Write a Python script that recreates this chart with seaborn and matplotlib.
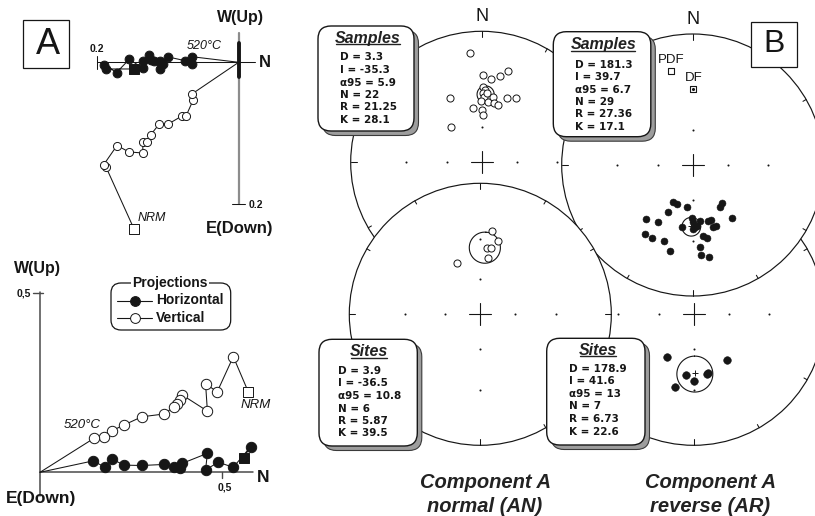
import numpy as np
import pandas as pd
import matplotlib
matplotlib.use("Agg")
import matplotlib.pyplot as plt
import seaborn as sns
from matplotlib.patches import FancyBboxPatch, Rectangle, Circle

# ---------------------------------------------------------------------------
# A) Orthogonal demagnetisation diagrams (first value of each list = NRM)
# top specimen: N component (x) and Up component (y)
top_hor_n = [-0.1475, -0.1862, -0.1897, -0.1721, -0.1541, -0.1344, -0.1352, -0.1263,
             -0.1235, -0.1186, -0.1108, -0.1115, -0.1062, -0.0992, -0.0756, -0.0651, -0.0662]
top_hor_up = [-0.0094, -0.0094, -0.0031, -0.0144, 0.0042, -0.0087, 0.0018, 0.0096,
              0.0032, 0.0018, -0.0101, 0.0018, -0.0024, 0.0075, 0.0023, -0.0017, 0.0079]
top_ver_n = [-0.1475, -0.1869, -0.1904, -0.1714, -0.1545, -0.1352, -0.1348, -0.1285,
             -0.1239, -0.1118, -0.0992, -0.0799, -0.0742, -0.0644, -0.0658]
top_ver_up = [-0.2346, -0.1475, -0.1446, -0.1172, -0.1263, -0.1277, -0.1118, -0.1118,
              -0.1020, -0.0869, -0.0869, -0.0756, -0.0756, -0.0538, -0.0446]

# bottom specimen
bot_hor_n = [0.558, 0.578, 0.530, 0.489, 0.454, 0.459, 0.390, 0.384, 0.367, 0.341,
             0.279, 0.231, 0.197, 0.178, 0.146]
bot_hor_up = [0.041, 0.072, 0.014, 0.028, 0.007, 0.053, 0.025, 0.011, 0.016, 0.022,
              0.019, 0.020, 0.037, 0.014, 0.032]
bot_ver_n = [0.571, 0.530, 0.486, 0.454, 0.459, 0.390, 0.384, 0.377, 0.367, 0.341,
             0.279, 0.230, 0.197, 0.176, 0.148]
bot_ver_up = [0.225, 0.323, 0.225, 0.247, 0.171, 0.216, 0.202, 0.191, 0.183, 0.163,
              0.155, 0.132, 0.116, 0.098, 0.095]

# ---------------------------------------------------------------------------
# B) Stereonets (declination, inclination in degrees)
an_samples_dec = [353.9, 0.7, 6.2, 11.9, 15.8, 1.2, 2.6, 1.3, 2.3, 4.1, 359.1, 6.2,
                  9.6, 11.7, 16.2, 351.2, 0.0, 1.9, 333.6, 21.3, 28.2, 318.5]
an_samples_inc = [-9.9, -22.6, -24.8, -21.9, -18.0, -30.0, -32.2, -34.4, -36.8, -34.3,
                  -39.6, -40.1, -36.6, -40.2, -41.0, -44.7, -46.5, -50.3, -32.8, -34.6,
                  -32.0, -50.7]
an_sites_dec = [7.8, 13.7, 5.5, 9.1, 8.1, 335.7]
an_sites_inc = [-24.6, -29.9, -36.3, -35.5, -43.3, -43.7]

ar_samples_dec = [207.9, 201.5, 187.4, 142.9, 146.8, 207.3, 220.7, 211.4, 181.1, 180.0,
                  172.5, 164.9, 161.9, 143.8, 190.0, 177.9, 176.2, 161.7, 159.3, 214.7,
                  209.4, 200.8, 171.5, 168.7, 194.8, 174.9, 174.9, 169.8, 179.3]
ar_samples_inc = [54.8, 54.5, 54.4, 49.7, 48.3, 45.8, 32.7, 35.7, 45.7, 42.7,
                  43.6, 42.5, 42.3, 36.5, 38.4, 39.5, 40.2, 36.8, 37.1, 24.7,
                  25.0, 26.6, 32.6, 30.6, 21.6, 25.7, 20.8, 18.8, 37.9]
ar_sites_dec = [211.6, 143.7, 187.5, 179.7, 167.8, 166.0, 194.4]
ar_sites_inc = [47.9, 43.2, 39.9, 36.2, 39.8, 40.6, 30.2]

# reference field directions shown on the reverse-samples net
ref_labels = ["PDF", "DF"]
ref_dec = [346.9, 0.0]
ref_inc = [-17.1, -29.6]

# Fisher statistics: AN samples, AR samples, AN sites, AR sites
stat_dec = [3.3, 181.3, 3.9, 178.9]
stat_inc = [-35.3, 39.7, -36.5, 41.6]
stat_a95 = [5.9, 6.7, 10.8, 13]
stat_n = [22, 29, 6, 7]
stat_r = [21.25, 27.36, 5.87, 6.73]
stat_k = [28.1, 17.1, 39.5, 22.6]

# ---------------------------------------------------------------------------
sns.set_theme(style="white")
plt.rcParams["font.family"] = ["Liberation Sans", "DejaVu Sans"]
INK = "#161616"

W, H = 815, 516
fig = plt.figure(figsize=(W / 100, H / 100), dpi=100)
fig.patch.set_facecolor("white")


def px_axes(x0, y0, x1, y1, z):
    ax = fig.add_axes([x0 / W, 1 - y1 / H, (x1 - x0) / W, (y1 - y0) / H])
    ax.set_zorder(z)
    ax.patch.set_alpha(0)
    ax.set_axis_off()
    return ax


def wulff(dec, inc):
    d = np.radians(np.asarray(dec, float))
    i = np.asarray(inc, float)
    r = np.tan(np.radians(90 - np.abs(i)) / 2)
    return r * np.sin(d), r * np.cos(d)


def cone(dec, inc, a95, n=181):
    d, i = np.radians(dec), np.radians(inc)
    m = np.array([np.cos(i) * np.cos(d), np.cos(i) * np.sin(d), np.sin(i)])
    u = np.array([-np.sin(i) * np.cos(d), -np.sin(i) * np.sin(d), np.cos(i)])
    v = np.cross(m, u)
    t = np.linspace(0, 2 * np.pi, n)
    a = np.radians(a95)
    p = np.cos(a) * m[:, None] + np.sin(a) * (np.cos(t) * u[:, None] + np.sin(t) * v[:, None])
    dd = np.degrees(np.arctan2(p[1], p[0]))
    ii = np.degrees(np.arcsin(np.clip(p[2], -1, 1)))
    return wulff(dd, ii)


# ---------------------------------------------------------------- stereonets
R = 131.0
LIM = 1.16


def draw_net(cx, cy, z, north):
    ax = px_axes(cx - LIM * R, cy - LIM * R, cx + LIM * R, cy + LIM * R, z)
    ax.add_patch(Circle((0, 0), 1, facecolor="white", edgecolor=INK, lw=0.85, zorder=1))
    for az in range(0, 360, 30):
        a = np.radians(az)
        r0 = 0.955 if az % 90 == 0 else 0.972
        ax.plot([np.sin(a) * r0, np.sin(a)], [np.cos(a) * r0, np.cos(a)],
                color=INK, lw=0.75, zorder=2)
    gx, gy = wulff(np.repeat([0, 90, 180, 270], 2), np.tile([60, 30], 4))
    ax.scatter(gx, gy, s=2.2, color=INK, lw=0, zorder=2)
    c = 0.085
    ax.plot([-c, c], [0, 0], color=INK, lw=0.8, zorder=2)
    ax.plot([0, 0], [-c, c], color=INK, lw=0.8, zorder=2)
    if north:
        ax.text(0, 1.112, "N", ha="center", va="center", fontsize=13, color=INK)
    return ax


def plot_dirs(ax, dec, inc, filled, size):
    x, y = wulff(dec, inc)
    df = pd.DataFrame({"x": x, "y": y})
    if filled:
        sns.scatterplot(data=df, x="x", y="y", ax=ax, s=size, color=INK,
                        edgecolor=INK, linewidth=0.4, zorder=5, legend=False)
    else:
        sns.scatterplot(data=df, x="x", y="y", ax=ax, s=size, color="white",
                        edgecolor=INK, linewidth=0.7, zorder=5, legend=False)


def plot_cone(ax, k, plus=False):
    x, y = cone(stat_dec[k], stat_inc[k], stat_a95[k])
    sns.lineplot(x=x, y=y, ax=ax, sort=False, estimator=None, errorbar=None,
                 color=INK, lw=0.8, zorder=4)
    if plus:
        mx, my = wulff([stat_dec[k]], [stat_inc[k]])
        ax.scatter(mx, my, marker="+", s=14, color=INK, lw=0.7, zorder=6)


net_ul = draw_net(481.7, 162.3, 1, True)
net_lr = draw_net(693.7, 314.3, 2, False)
net_ur = draw_net(692.7, 165.0, 3, True)
net_ll = draw_net(480.3, 314.3, 4, False)

plot_dirs(net_ul, an_samples_dec, an_samples_inc, False, 26)
plot_cone(net_ul, 0)
plot_dirs(net_ll, an_sites_dec, an_sites_inc, False, 26)
plot_cone(net_ll, 2)
plot_dirs(net_ur, ar_samples_dec, ar_samples_inc, True, 25)
plot_cone(net_ur, 1, plus=True)
plot_dirs(net_lr, ar_sites_dec, ar_sites_inc, True, 30)
plot_cone(net_lr, 3, plus=True)

rx, ry = wulff(ref_dec, ref_inc)
sns.scatterplot(x=rx, y=ry, ax=net_ur, marker="s", s=20, color="white",
                edgecolor=INK, linewidth=0.8, zorder=5, legend=False)
net_ur.scatter(rx[1:], ry[1:], s=1.5, color=INK, zorder=6)
for lab, xx, yy in zip(ref_labels, rx, ry):
    net_ur.text(xx + 0.005, yy + 0.085, lab, ha="center", va="center", fontsize=9.5,
                family=["Liberation Sans Narrow", "Liberation Sans"], color=INK)

for ax in (net_ul, net_lr, net_ur, net_ll):
    ax.set_xlim(-LIM, LIM)
    ax.set_ylim(-LIM, LIM)
    ax.set_axis_off()

# ------------------------------------------------- orthogonal diagrams


def zij_axes(ox, oy, sx, sy, xlim, ylim, z):
    ax = px_axes(ox + xlim[0] * sx, oy - ylim[1] * sy, ox + xlim[1] * sx, oy - ylim[0] * sy, z)
    return ax


def zij_path(ax, n, up, filled, size, sq_size):
    xs = list(n) + [0.0]
    ys = list(up) + [0.0]
    sns.lineplot(x=xs, y=ys, ax=ax, sort=False, estimator=None, errorbar=None,
                 color=INK, lw=0.75, zorder=3)
    fc = INK if filled else "white"
    sns.scatterplot(x=n[1:], y=up[1:], ax=ax, s=size, color=fc, edgecolor=INK,
                    linewidth=0.7, zorder=5, legend=False)
    sns.scatterplot(x=n[:1], y=up[:1], ax=ax, marker="s", s=sq_size, color=fc,
                    edgecolor=INK, linewidth=0.7, zorder=5, legend=False)


# top diagram
top_lim = ((-0.21, 0.03), (-0.25, 0.045))
zt = zij_axes(238.7, 62.3, 710, 710, *top_lim, 5)
zt.plot([0, 0], [0.041, -0.2], color="#8c8c8c", lw=1.6, zorder=1)
zt.plot([0, 0], [0.027, -0.021], color=INK, lw=2.8, zorder=2)
zt.plot([-0.2, 0.023], [0, 0], color=INK, lw=0.75, zorder=2)
zt.plot([-0.2, -0.2], [-0.0095, 0.0095], color=INK, lw=0.75, zorder=2)
zt.plot([-0.009, 0.009], [-0.2, -0.2], color=INK, lw=0.75, zorder=2)
zij_path(zt, top_ver_n, top_ver_up, False, 34, 42)
zij_path(zt, top_hor_n, top_hor_up, True, 40, 42)
zt.set_xlim(*top_lim[0])
zt.set_ylim(*top_lim[1])
zt.set_axis_off()

# bottom diagram
bot_lim = ((-0.06, 0.62), (-0.07, 0.52))
zb = zij_axes(40.0, 472.3, 364.7, 358.0, *bot_lim, 5)
zb.plot([0, 0], [0.505, -0.065], color="#4a4a4a", lw=1.1, zorder=1)
zb.plot([0, 0.584], [0, 0], color="#4a4a4a", lw=1.1, zorder=1)
zb.plot([-0.019, 0.008], [0.5, 0.5], color="#4a4a4a", lw=1.0, zorder=1)
zb.plot([0.5, 0.5], [0, -0.016], color="#4a4a4a", lw=1.0, zorder=1)
zij_path(zb, bot_ver_n, bot_ver_up, False, 56, 46)
zij_path(zb, bot_hor_n, bot_hor_up, True, 56, 52)
zb.set_xlim(*bot_lim[0])
zb.set_ylim(*bot_lim[1])
zb.set_axis_off()

# ------------------------------------------------------------ annotations
ov = px_axes(0, 0, W, H, 10)
ov.set_xlim(0, W)
ov.set_ylim(H, 0)

bold = dict(fontweight="bold", color=INK)
ov.text(240, 17.5, "W(Up)", ha="center", va="center", fontsize=11.5, **bold)
ov.text(265, 62.5, "N", ha="center", va="center", fontsize=12, **bold)
ov.text(96.5, 49.5, "0.2", ha="center", va="center", fontsize=7.5, **bold)
ov.text(249, 205.5, "0.2", ha="left", va="center", fontsize=7.5, **bold)
ov.text(239.5, 228, "E(Down)", ha="center", va="center", fontsize=12, **bold)
ov.text(204, 46, "520°C", ha="center", va="center", fontsize=9, style="italic", color=INK)
ov.text(152, 218, "NRM", ha="center", va="center", fontsize=9, style="italic", color=INK)

ov.text(37.5, 268, "W(Up)", ha="center", va="center", fontsize=11.5, **bold)
ov.text(31, 293.5, "0,5", ha="right", va="center", fontsize=7.5, **bold)
ov.text(263.5, 477, "N", ha="center", va="center", fontsize=12.5, **bold)
ov.text(225, 488, "0,5", ha="center", va="center", fontsize=7.5, **bold)
ov.text(41.5, 499, "E(Down)", ha="center", va="center", fontsize=12.5, **bold)
ov.text(82, 425, "520°C", ha="center", va="center", fontsize=9.5, style="italic", color=INK)
ov.text(256, 405, "NRM", ha="center", va="center", fontsize=9.5, style="italic", color=INK)

# projection key
ov.add_patch(FancyBboxPatch((111, 283), 119.7, 47, boxstyle="round,pad=0,rounding_size=10",
                            fc="white", ec=INK, lw=0.9, zorder=1))
ov.text(170, 283, "Projections", ha="center", va="center", fontsize=10, zorder=3,
        bbox=dict(fc="white", ec="none", pad=1.2), **bold)
for yy, fc, lab in ((300.5, INK, "Horizontal"), (318, "white", "Vertical")):
    ov.plot([117, 152], [yy, yy], color=INK, lw=0.8, zorder=2)
    ov.scatter([135], [yy], s=50, color=fc, edgecolor=INK, lw=0.7, zorder=3)
    ov.text(156, yy, lab, ha="left", va="center", fontsize=10, **bold)

# panel letters
ov.add_patch(Rectangle((22.7, 20), 46.6, 48.3, fc="white", ec=INK, lw=0.9))
ov.text(47.5, 44, "A", ha="center", va="center", fontsize=26, color=INK,
        family=["Liberation Sans"], fontweight="normal")
ov.add_patch(Rectangle((750.7, 21.7), 46, 45, fc="white", ec=INK, lw=0.9))
ov.text(774, 44.5, "B", ha="center", va="center", fontsize=23, color=INK,
        family=["Liberation Sans"], fontweight="normal")

# statistics boxes
underline_targets = []


def stat_box(k, x, y, w, h, title, title_xy, tx, ty0, dy):
    ov.add_patch(FancyBboxPatch((x + 4.5, y + 4.5), w, h, boxstyle="round,pad=0,rounding_size=13",
                                fc="#9d9d9d", ec="#3a3a3a", lw=0.8, zorder=2))
    ov.add_patch(FancyBboxPatch((x, y), w, h, boxstyle="round,pad=0,rounding_size=13",
                                fc="white", ec=INK, lw=1.0, zorder=3))
    t = ov.text(title_xy[0], title_xy[1], title, ha="center", va="center", fontsize=11.5,
                fontweight="bold", style="italic", color="#222222", zorder=4)
    underline_targets.append(t)
    lines = [f"D = {stat_dec[k]:g}", f"I = {stat_inc[k]:g}", f"\u03b195 = {stat_a95[k]:g}",
             f"N = {stat_n[k]:g}", f"R = {stat_r[k]:g}", f"K = {stat_k[k]:g}"]
    for j, s in enumerate(lines):
        ov.text(tx, ty0 + j * dy, s, ha="left", va="center", fontsize=7.5,
                family=["DejaVu Sans"], fontweight="bold", color=INK, zorder=4)


stat_box(0, 318, 26, 96, 105, "Samples", (368, 38.5), 340, 57.5, 12.5)
stat_box(1, 553.3, 31.7, 97.5, 105, "Samples", (603.3, 45), 575, 65, 12.3)
stat_box(2, 319, 339.3, 98.3, 106.7, "Sites", (369.2, 352), 338.3, 371, 12.5)
stat_box(3, 546.7, 338.3, 98.3, 106.7, "Sites", (598.3, 350.5), 569.3, 368.5, 12.65)

# component titles
for xx, l1, l2 in ((485, "Component A", "normal (AN)"), (710.5, "Component A", "reverse (AR)")):
    ov.text(xx, 483, l1, ha="center", va="center", fontsize=14.5, fontweight="bold",
            style="italic", color="#222222")
    ov.text(xx, 506.5, l2, ha="center", va="center", fontsize=14.5, fontweight="bold",
            style="italic", color="#222222")

fig.canvas.draw()
renderer = fig.canvas.get_renderer()
inv = ov.transData.inverted()
for t in underline_targets:
    bb = t.get_window_extent(renderer)
    (x0, y0), (x1, y1) = inv.transform([[bb.x0, bb.y0], [bb.x1, bb.y1]])
    ov.plot([x0 + 1, x1 - 1], [y0 - 1.6, y0 - 1.6], color="#222222", lw=1.0, zorder=4)

fig.savefig("out.png", dpi=100, facecolor="white")
